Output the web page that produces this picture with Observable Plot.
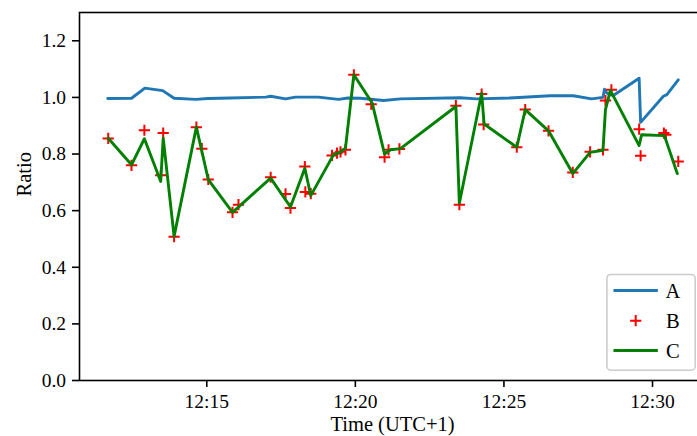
<!DOCTYPE html>
<html><head><meta charset="utf-8">
<script src="https://cdn.jsdelivr.net/npm/d3@7"></script>
<script src="https://cdn.jsdelivr.net/npm/@observablehq/plot@0.6"></script>
<style>
html,body{margin:0;padding:0;background:#fff;overflow:hidden;}
#chart{width:697px;height:436px;overflow:hidden;}
#chart svg{max-width:none !important;}
</style></head><body><div id="chart"></div>
<script>
const seriesNames = ["A", "B", "C"];
const seriesColors = ["#1f77b4", "red", "#008000"];
const xLabel = "Time (UTC+1)";
const yLabel = "Ratio";
const xTickLabels = ["12:15", "12:20", "12:25", "12:30"];
const yTicks = [0, 0.2, 0.4, 0.6, 0.8, 1.0, 1.2];
const xDomain = ["12:10:43", "12:31:47"];
const yDomain = [0, 1.3];

const aTimes = ["12:11:40","12:12:28","12:12:55","12:13:31","12:13:54","12:14:38","12:15:02","12:15:48","12:16:59","12:17:09","12:17:39","12:17:59","12:18:45","12:19:26","12:19:45","12:20:10","12:20:57","12:21:31","12:23:32","12:24:05","12:25:12","12:26:33","12:27:20","12:27:57","12:28:20","12:28:23","12:28:28","12:28:40","12:29:33","12:29:36","12:30:22","12:30:29","12:30:52"];
const aValues = [0.996,0.997,1.033,1.024,0.997,0.993,0.996,0.998,1.001,1.004,0.995,1.001,1.001,0.993,0.998,0.997,0.989,0.995,0.999,0.995,0.998,1.006,1.006,0.995,1.000,1.029,1.015,1.006,1.068,0.912,1.004,1.010,1.062];

const bTimes = ["12:11:41","12:12:28","12:12:54","12:13:27","12:13:32","12:13:54","12:14:39","12:14:50","12:15:03","12:15:52","12:16:04","12:17:09","12:17:39","12:17:49","12:18:18","12:18:19","12:18:30","12:19:13","12:19:23","12:19:30","12:19:40","12:19:57","12:20:32","12:20:59","12:21:07","12:21:29","12:23:23","12:23:30","12:24:15","12:24:19","12:25:26","12:25:43","12:26:30","12:27:19","12:27:54","12:28:20","12:28:25","12:28:37","12:29:33","12:29:36","12:30:23","12:30:27","12:30:52"];
const bValues = [0.855,0.760,0.884,0.725,0.874,0.508,0.895,0.819,0.710,0.594,0.621,0.718,0.659,0.609,0.756,0.666,0.660,0.795,0.803,0.808,0.815,1.080,0.976,0.789,0.815,0.818,0.971,0.621,1.012,0.904,0.824,0.957,0.882,0.735,0.808,0.815,0.989,1.027,0.888,0.794,0.874,0.868,0.774];

const cTimes = ["12:11:41","12:12:28","12:12:54","12:13:27","12:13:32","12:13:54","12:14:39","12:15:03","12:15:52","12:17:09","12:17:49","12:18:18","12:18:30","12:19:16","12:19:26","12:19:40","12:19:57","12:20:34","12:20:59","12:21:11","12:21:31","12:23:23","12:23:30","12:24:15","12:24:20","12:25:26","12:25:43","12:26:30","12:27:19","12:27:54","12:28:20","12:28:25","12:28:35","12:29:33","12:29:38","12:30:24","12:30:50"];
const cValues = [0.856,0.762,0.854,0.703,0.856,0.509,0.895,0.710,0.594,0.715,0.613,0.750,0.653,0.798,0.803,0.821,1.080,0.980,0.800,0.815,0.819,0.968,0.626,1.015,0.906,0.824,0.957,0.882,0.731,0.806,0.813,0.957,1.025,0.830,0.868,0.865,0.731];

const toDate = t => new Date(`2024-01-01T${t.length === 5 ? t + ":00" : t}Z`);
const rows = (times, values) => times.map((t, i) => ({time: toDate(t), value: values[i]}));
const A = rows(aTimes, aValues);
const B = rows(bTimes, bValues);
const C = rows(cTimes, cValues);

const font = "'Liberation Serif', 'DejaVu Serif', serif";
const fs = 19.5;
const labelFs = 20.5;
const W = 705, H = 436, mL = 79, mR = 0, mT = 12, mB = 56;
const markerR = 3.7;

const plot = Plot.plot({
  width: W, height: H, marginLeft: mL, marginRight: mR, marginTop: mT, marginBottom: mB,
  style: {fontFamily: font, fontSize: fs + "px", color: "black", background: "white", maxWidth: "none", overflow: "visible"},
  x: {type: "utc", domain: xDomain.map(toDate)},
  y: {domain: yDomain},
  marks: [
    Plot.axisX({ticks: xTickLabels.map(toDate), tickFormat: d3.utcFormat("%H:%M"), tickSize: 7, tickPadding: 7, strokeWidth: 1.6, label: null, fontSize: fs}),
    Plot.axisY({ticks: yTicks, tickFormat: d3.format(".1f"), tickSize: 7, tickPadding: 6.5, strokeWidth: 1.6, label: null, fontSize: fs}),
    Plot.line(A, {x: "time", y: "value", stroke: seriesColors[0], strokeWidth: 2.9}),
    Plot.dot(B, {x: "time", y: "value", symbol: "plus", stroke: seriesColors[1], fill: "none", r: markerR, strokeWidth: 2}),
    Plot.line(C, {x: "time", y: "value", stroke: seriesColors[2], strokeWidth: 2.9}),
    Plot.frame({stroke: "black", strokeWidth: 1.6}),
    Plot.text([xLabel], {text: d => d, frameAnchor: "bottom", dy: 43.9, lineAnchor: "middle", fontSize: labelFs}),
    Plot.text([yLabel], {text: d => d, frameAnchor: "left", dx: -55.5, rotate: -90, lineAnchor: "middle", fontSize: labelFs})
  ]
});

// legend (lower right, inside the axes)
const svg = d3.select(plot);
const pad = 9.8;
const boxW = 88.3, boxH = 95.7;
const bx = W - mR - pad - boxW, by = H - mB - pad - boxH;
const lg = svg.append("g").attr("font-family", font).attr("font-size", 20.5);
lg.append("rect").attr("x", bx).attr("y", by).attr("width", boxW).attr("height", boxH)
  .attr("rx", 4).attr("fill", "white").attr("fill-opacity", 0.8)
  .attr("stroke", "#cccccc").attr("stroke-width", 1.6);
const rowY = [by + 16, by + 46.2, by + 76];
seriesNames.forEach((name, i) => {
  const y = rowY[i];
  if (name === "B") {
    lg.append("path").attr("d", d3.symbol(d3.symbolPlus, Math.PI * markerR * markerR)())
      .attr("transform", `translate(${bx + 28.8},${y})`)
      .attr("fill", "none").attr("stroke", seriesColors[i]).attr("stroke-width", 2);
  } else {
    lg.append("line").attr("x1", bx + 8).attr("x2", bx + 49.5).attr("y1", y).attr("y2", y)
      .attr("stroke", seriesColors[i]).attr("stroke-width", 2.9).attr("stroke-linecap", "square");
  }
  lg.append("text").attr("x", bx + 66).attr("y", y + 7.6).attr("fill", "black").text(name);
});

document.getElementById("chart").appendChild(plot);
</script></body></html>
